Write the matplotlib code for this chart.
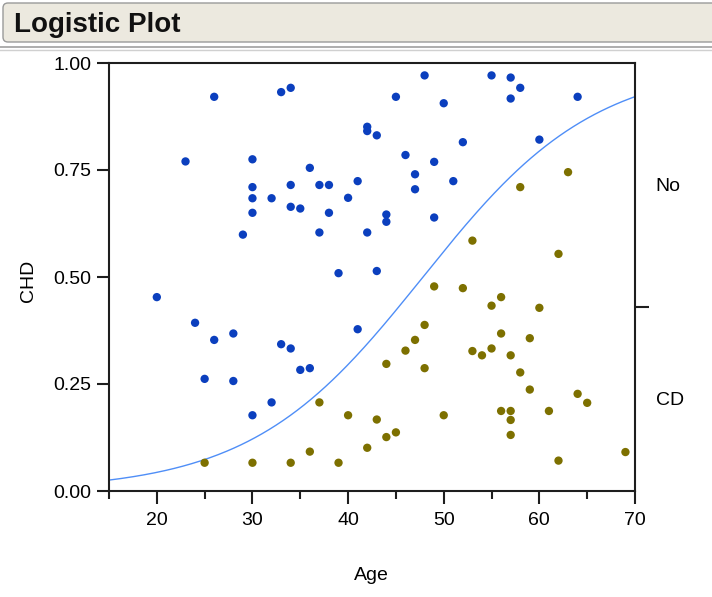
import numpy as np
import matplotlib.pyplot as plt
from matplotlib.patches import FancyBboxPatch
from matplotlib.lines import Line2D
from matplotlib.transforms import IdentityTransform

plt.rcParams['font.family'] = ['Liberation Sans', 'DejaVu Sans']

# subjects without CHD (upper band) - age and jittered vertical position
no_age = [26, 33, 23, 30, 30, 30, 32, 30, 29,
          34, 48, 45, 50, 42, 42, 43, 46, 49, 52, 47, 47, 51, 49, 36, 34, 37, 38,
          41, 40, 34, 35, 38, 37, 42, 44, 44, 39, 43,
          55, 57, 58, 57, 64, 60,
          20, 24, 26, 28, 33, 25, 28, 32, 30,
          41, 34, 35, 36]
no_y = [0.921, 0.932, 0.770, 0.775, 0.710, 0.684, 0.684, 0.650, 0.599,
        0.942, 0.971, 0.921, 0.906, 0.851, 0.841, 0.831, 0.785, 0.769, 0.815, 0.740, 0.705, 0.724, 0.639, 0.755, 0.715, 0.715, 0.715,
        0.724, 0.685, 0.664, 0.660, 0.650, 0.604, 0.604, 0.646, 0.629, 0.509, 0.514,
        0.971, 0.966, 0.942, 0.917, 0.921, 0.821,
        0.453, 0.393, 0.353, 0.368, 0.343, 0.262, 0.257, 0.207, 0.177,
        0.378, 0.333, 0.283, 0.287]

# subjects with CHD (lower band)
cd_age = [63, 58, 53, 62,
          25, 30,
          49, 52, 48, 47, 46, 44, 48, 37, 40, 43, 50, 45, 44, 42, 36, 34, 39,
          56, 55, 60, 56, 59, 53, 54, 55, 57, 58, 59, 64, 65, 56, 57, 57, 61, 57, 62, 69]
cd_y = [0.745, 0.710, 0.585, 0.554,
        0.066, 0.066,
        0.478, 0.474, 0.388, 0.353, 0.328, 0.297, 0.287, 0.207, 0.177, 0.167, 0.177, 0.137, 0.126, 0.101, 0.092, 0.066, 0.066,
        0.453, 0.433, 0.428, 0.368, 0.357, 0.327, 0.317, 0.333, 0.317, 0.277, 0.237, 0.227, 0.206, 0.187, 0.187, 0.166, 0.187, 0.131, 0.071, 0.091]

# fitted logistic model for P(CHD)
b0 = -5.309
b1 = 0.111
cd_share = 0.43   # overall share of CD, splits the right axis
levels = ['No', 'CD']

W, H = 712, 597
fig = plt.figure(figsize=(W / 100, H / 100), dpi=100)

# header bar
hdr = FancyBboxPatch((3, H - 42), 800, 39, boxstyle='round,pad=0,rounding_size=5',
                     transform=IdentityTransform(), facecolor='#ECE9DF',
                     edgecolor='#9A9A9A', linewidth=1.0)
fig.patches.append(hdr)
fig.lines.append(Line2D([0, W], [H - 47, H - 47], transform=IdentityTransform(), color='#A0A0A0', lw=1.2))
fig.lines.append(Line2D([0, W], [H - 49.5, H - 49.5], transform=IdentityTransform(), color='#D0D0D0', lw=1.0))
fig.text(14 / W, 1 - 24.5 / H, 'Logistic Plot', fontsize=20, fontweight='bold', va='center', ha='left', color='#111111')

ax = fig.add_axes([109 / W, 1 - 491 / H, (635 - 109) / W, (491 - 63) / H])

ax.scatter(no_age, no_y, s=36, color='#0B3FBE', edgecolors='none', zorder=3)
ax.scatter(cd_age, cd_y, s=36, color='#7D7000', edgecolors='none', zorder=3)

ages = np.linspace(15, 70, 300)
prob = 1 / (1 + np.exp(-(b0 + b1 * ages)))
ax.plot(ages, prob, color='#4F8EF7', lw=1.0, zorder=2)

ax.set_xlim(15, 70)
ax.set_ylim(0, 1)
ax.set_xticks([20, 30, 40, 50, 60, 70])
ax.set_xticks([15, 25, 35, 45, 55, 65], minor=True)
ax.set_yticks([0, 0.25, 0.5, 0.75, 1.0])
ax.set_yticklabels(['0.00', '0.25', '0.50', '0.75', '1.00'])

for sp in ax.spines.values():
    sp.set_linewidth(1.5)
    sp.set_color('#1E1E1E')
ax.tick_params(axis='x', which='major', length=9, width=1.5, pad=6, labelsize=14, color='#1E1E1E')
ax.tick_params(axis='x', which='minor', length=5.5, width=1.5, color='#1E1E1E')
ax.tick_params(axis='y', which='major', length=8.5, width=1.5, pad=4, labelsize=14, color='#1E1E1E')

fig.text(371 / W, 1 - 575 / H, 'Age', fontsize=14, ha='center', va='center')
fig.text(29 / W, 1 - 281 / H, 'CHD', fontsize=14, ha='center', va='center', rotation=90)

# response levels on the right side
rax = ax.twinx()
rax.set_ylim(0, 1)
rax.set_yticks([cd_share])
rax.set_yticklabels([''])
rax.set_yticks([(1 + cd_share) / 2, cd_share / 2], minor=True)
rax.set_yticklabels(levels, minor=True)
rax.tick_params(axis='y', which='major', length=10, width=1.5, color='#1E1E1E')
rax.tick_params(axis='y', which='minor', length=0, pad=15, labelsize=14)
for sp in rax.spines.values():
    sp.set_visible(False)

fig.savefig('out.png', dpi=100)
